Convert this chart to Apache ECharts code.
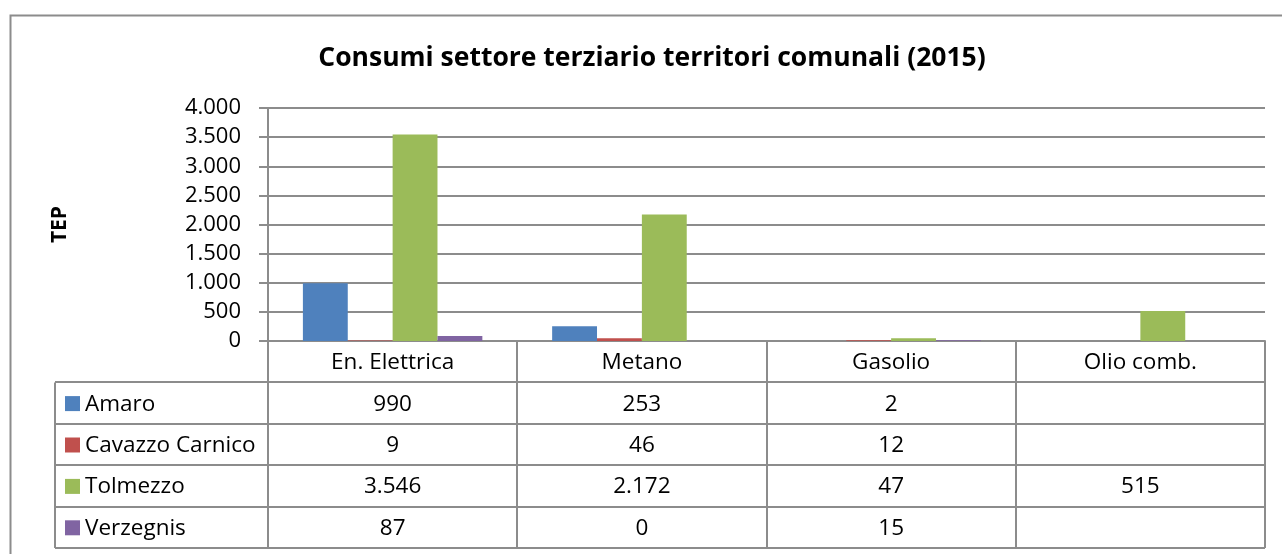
<!DOCTYPE html>
<html>
<head>
<meta charset="utf-8">
<script src="https://cdn.jsdelivr.net/npm/echarts@6/dist/echarts.min.js"></script>
<style>
html,body{margin:0;padding:0;background:#fff;}
#c{width:1282px;height:554px;}
</style>
</head>
<body>
<div id="c"></div>
<script>
var title = 'Consumi settore terziario territori comunali (2015)';
var yAxisName = 'TEP';
var categories = ['En. Elettrica', 'Metano', 'Gasolio', 'Olio comb.'];
var seriesNames = ['Amaro', 'Cavazzo Carnico', 'Tolmezzo', 'Verzegnis'];
var amaro = [990, 253, 2, null];
var cavazzo = [9, 46, 12, null];
var tolmezzo = [3546, 2172, 47, 515];
var verzegnis = [87, 0, 15, null];
var seriesData = [amaro, cavazzo, tolmezzo, verzegnis];
var colors = ['#4F81BD', '#C0504D', '#9BBB59', '#8064A2'];

var FONT = '"Open Sans", sans-serif';
var W = 1282, H = 554;
var gridL = 268, gridR = 1265, gridT = 108, gridB = 341;
var tableLeft = 55, tableBottom = 548;
var rowH = (tableBottom - gridB) / 5;
var lineColor = '#8c8c8c';
var TFS = 22.5;

function fmt(v) {
  if (v === null || v === undefined) return '';
  return String(v).replace(/\B(?=(\d{3})+(?!\d))/g, '.');
}

var chart = echarts.init(document.getElementById('c'), null, {renderer: 'canvas'});

var graphics = [];
graphics.push({type: 'rect', shape: {x: 10.5, y: 15.5, width: W + 20, height: H + 20},
  style: {fill: null, stroke: '#8c8c8c', lineWidth: 2}, silent: true});
graphics.push({type: 'text', x: 60, y: (gridT + gridB) / 2, rotation: Math.PI / 2,
  style: {text: yAxisName, font: 'bold 21px ' + FONT, fill: '#000', textAlign: 'center', textVerticalAlign: 'middle'}});
graphics.push({type: 'text', x: 652, y: 58,
  style: {text: title, font: 'bold 26.5px ' + FONT, fill: '#000', textAlign: 'center', textVerticalAlign: 'middle'}});

var colW = (gridR - gridL) / categories.length;
for (var i = 0; i <= categories.length; i++) {
  var x = Math.round(gridL + i * colW);
  graphics.push({type: 'line', shape: {x1: x, y1: gridB, x2: x, y2: tableBottom},
    style: {stroke: lineColor, lineWidth: 2}, silent: true});
}
graphics.push({type: 'line', shape: {x1: tableLeft, y1: gridB + rowH, x2: tableLeft, y2: tableBottom},
  style: {stroke: lineColor, lineWidth: 2}, silent: true});
for (var r = 1; r <= 5; r++) {
  var y = Math.round(gridB + r * rowH);
  graphics.push({type: 'line', shape: {x1: tableLeft, y1: y, x2: gridR, y2: y},
    style: {stroke: lineColor, lineWidth: 2}, silent: true});
}
for (var c = 0; c < categories.length; c++) {
  graphics.push({type: 'text', x: gridL + (c + 0.5) * colW, y: gridB + rowH / 2 + 1,
    style: {text: categories[c], font: TFS + 'px ' + FONT, fill: '#000', textAlign: 'center', textVerticalAlign: 'middle'}});
}
for (var s = 0; s < seriesNames.length; s++) {
  var cy = gridB + (s + 1.5) * rowH;
  graphics.push({type: 'rect', shape: {x: 65, y: cy - 7, width: 15, height: 15}, style: {fill: colors[s]}});
  graphics.push({type: 'text', x: 85, y: cy + 1,
    style: {text: seriesNames[s], font: TFS + 'px ' + FONT, fill: '#000', textAlign: 'left', textVerticalAlign: 'middle'}});
  for (var c2 = 0; c2 < categories.length; c2++) {
    graphics.push({type: 'text', x: gridL + (c2 + 0.5) * colW, y: cy + 1,
      style: {text: fmt(seriesData[s][c2]), font: TFS + 'px ' + FONT, fill: '#000', textAlign: 'center', textVerticalAlign: 'middle'}});
  }
}

var series = seriesNames.map(function (n, i) {
  return {name: n, type: 'bar', data: seriesData[i], barGap: '0%', barCategoryGap: '28%',
    itemStyle: {color: colors[i]}, silent: true, animation: false};
});

chart.setOption({
  animation: false,
  backgroundColor: '#fff',
  grid: {left: gridL, right: W - gridR, top: gridT, bottom: H - gridB, containLabel: false},
  xAxis: {type: 'category', data: categories,
    axisLine: {show: true, lineStyle: {color: lineColor, width: 2}},
    axisTick: {show: false}, axisLabel: {show: false}},
  yAxis: {type: 'value', min: 0, max: 4000, interval: 500,
    axisLine: {show: true, lineStyle: {color: lineColor, width: 2}},
    axisTick: {show: true, inside: false, length: 9, lineStyle: {color: lineColor, width: 2}},
    axisLabel: {fontFamily: FONT, fontSize: 22, color: '#000', margin: 27,
      formatter: function (v) { return fmt(v); }},
    splitLine: {show: true, lineStyle: {color: lineColor, width: 2}}},
  series: series,
  graphic: graphics
});
</script>
</body>
</html>
